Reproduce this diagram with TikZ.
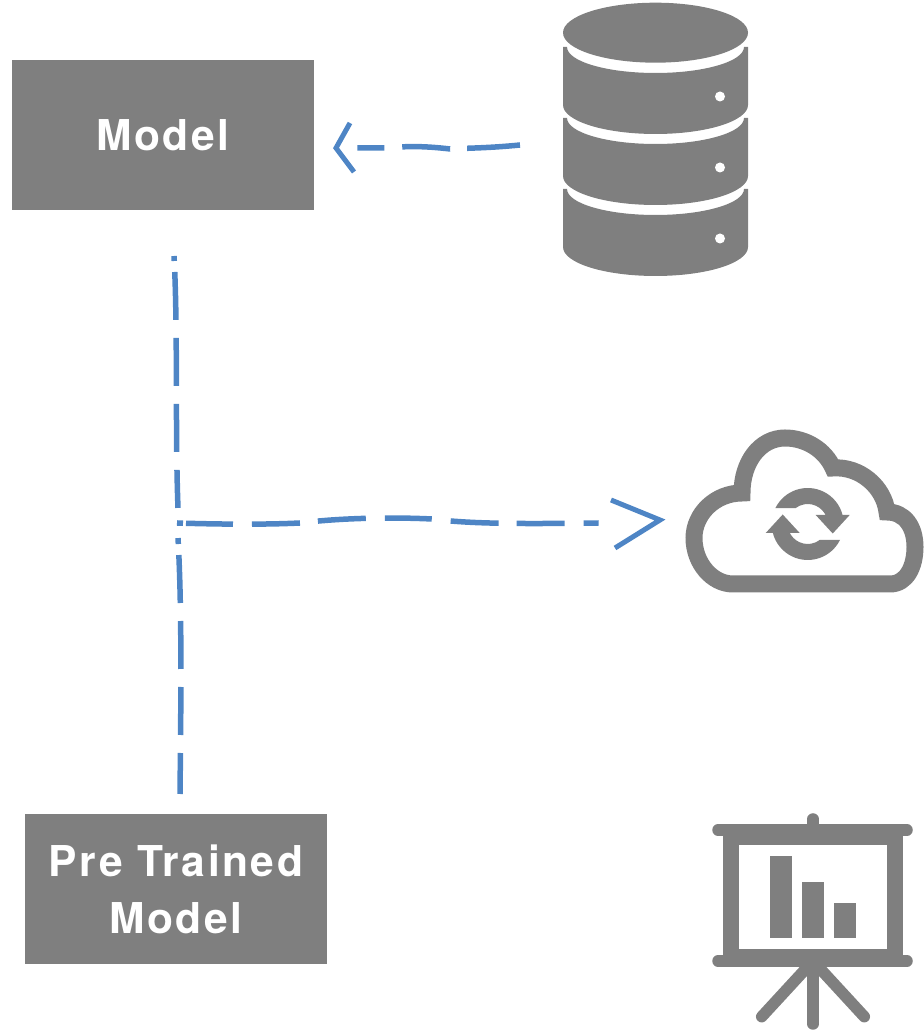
\documentclass[tikz,border=0pt]{standalone}
\usepackage{fontspec}
\newfontfamily\boxfont[LetterSpace=6]{TeX Gyre Heros}
\definecolor{boxgray}{HTML}{7F7F7F}
\definecolor{flowblue}{HTML}{4E85C5}
\tikzset{
    box/.style = {fill=boxgray, text=white, minimum width=302pt, minimum height=150pt, inner sep=0pt, align=center, font=\boxfont\fontsize{42.5}{57}\selectfont\bfseries},
    flow/.style = {draw=flowblue, line width=5.5pt},
    flowhead/.style = {draw=flowblue, line width=5pt, miter limit=10},
    icon/.style = {fill=boxgray},
    iconline/.style = {draw=boxgray, line width=11.5pt, line cap=round}
}

\begin{document}
\begin{tikzpicture}[x=1pt, y=1pt]
    \useasboundingbox (0,0) rectangle (923,1030);

    \node[box] (model) at (163,895) {Model};
    \node[box] (pretrained) at (176,140.5) {Pre Trained\\Model};

    % database
    \fill[icon] (655.5,997.3) ellipse [x radius=92.5, y radius=30];
    \foreach \k in {0,71,142} {
        \fill[icon] (563,925-\k) arc [start angle=180, end angle=360, x radius=92.5, y radius=29]
            -- (748,983-\k) -- (744,983-\k)
            arc [start angle=0, end angle=-180, x radius=88.5, y radius=26]
            -- (563,983-\k) -- cycle;
        \fill[white] (720,933.5-\k) circle (5);
    }

    % cloud
    \draw[draw=boxgray, line width=17pt] (733,446) -- (890,446)
        .. controls (907,446) and (915,464) .. (915,483)
        .. controls (915,503) and (905,518) .. (887,518)
        .. controls (884,543) and (860,564) .. (833,562)
        .. controls (825,580) and (806,592) .. (785,592)
        .. controls (760,592) and (742,568) .. (742,537)
        .. controls (715,537) and (694,516) .. (694,492)
        .. controls (694,467) and (712,446) .. (733,446) -- cycle;
    \foreach \a in {0,180} {
        \begin{scope}[shift={(807.7,506)}, rotate=\a]
            \fill[icon] (154:36) arc [start angle=154, end angle=14, radius=36]
                -- (10:20) arc [start angle=10, end angle=128, radius=20] -- cycle;
            \fill[icon] (8,9) -- (42,9) -- (25,-9.5) -- cycle;
        \end{scope}
    }

    % screen
    \draw[iconline] (813,211) -- (813,200);
    \fill[icon] (723,200) rectangle (903,69);
    \fill[white] (739,185) rectangle (887,81);
    \draw[iconline] (718,200) -- (907,200);
    \draw[iconline] (718,69) -- (907,69);
    \draw[iconline] (813,69) -- (813,6);
    \draw[iconline] (813,69) -- (761.7,13.3);
    \draw[iconline] (813,69) -- (864.3,13.3);
    \fill[icon] (770,174) rectangle (792,92);
    \fill[icon] (802,148) rectangle (824,92);
    \fill[icon] (834,127) rectangle (856,92);

    \coordinate (dbout) at (520,885);
    \coordinate (modelin) at (357,882);
    \coordinate (modeltip) at (336,882);
    \coordinate (modeldown) at (174,774);
    \coordinate (junctionup) at (178,522);
    \coordinate (junctionlow) at (178,492);
    \coordinate (junctionright) at (177,507);
    \coordinate (pretrainedup) at (180,236);
    \coordinate (cloudin) at (599,507);
    \coordinate (cloudtip) at (660,510);

    \draw[flow, dash pattern=on 53pt off 17pt on 48pt off 18pt on 27pt off 50pt] (dbout)
        .. controls (490,882) and (470,882) .. (450,881)
        .. controls (425,884) and (405,884) .. (390,882)
        .. controls (380,882) and (370,882) .. (modelin);
    \draw[flowhead] (modeltip) ++(14,25) -- (modeltip) -- ++(18,-24);

    \draw[flow, dash pattern=on 5pt off 11pt on 48pt off 18pt on 48pt off 18pt on 48pt off 18pt on 38pt off 50pt] (modeldown)
        .. controls (178,700) and (175,600) .. (junctionup);
    \draw[flow, dash pattern=on 41pt off 18pt on 48pt off 18pt on 48pt off 18pt on 48pt off 11pt on 6pt off 50pt] (pretrainedup)
        .. controls (181,330) and (182,420) .. (junctionlow);

    \draw[flow, dash pattern=on 6pt off 3pt on 47pt off 19pt on 48pt off 18pt on 48pt off 19pt on 47pt off 19pt on 48pt off 18pt on 48pt off 19pt on 15pt off 50pt] (junctionright)
        .. controls (240,505) and (280,506) .. (300,507)
        .. controls (340,512) and (390,513) .. (432,511)
        .. controls (470,506) and (520,506) .. (cloudin);
    \draw[flowhead] (cloudtip) ++(-49,20) -- (cloudtip) -- ++(-45,-28);
\end{tikzpicture}
\end{document}
